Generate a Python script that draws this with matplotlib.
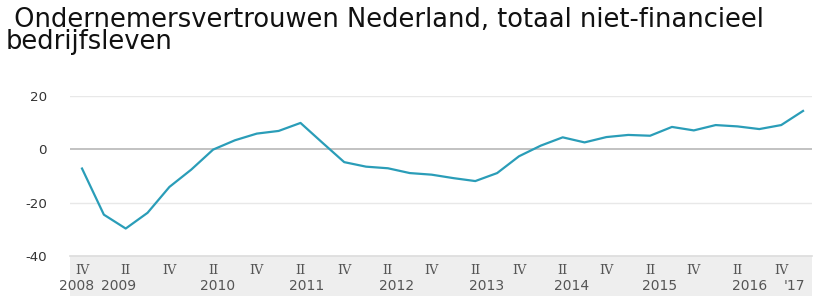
import matplotlib.pyplot as plt
from matplotlib.patches import Rectangle

# Quarterly producer confidence, 2008 Q4 .. 2017 Q1
quarters = ["IV"] + ["I", "II", "III", "IV"] * 8 + ["I"]
years = ["2008", "2009", "2010", "2011", "2012", "2013", "2014", "2015", "2016", "'17"]
values = [-7.2, -24.5, -29.7, -23.8, -14.1, -7.6, -0.1, 3.4, 5.9, 6.9,
          9.9, 2.5, -4.8, -6.5, -7.1, -8.9, -9.5, -10.8, -11.9, -8.9,
          -2.6, 1.4, 4.5, 2.6, 4.6, 5.4, 5.1, 8.4, 7.1, 9.1,
          8.6, 7.6, 9.1, 14.4]
yticks = [-40, -20, 0, 20]

# year label positions (quarter index)
year_pos = [-0.23, 1.65, 6.2, 10.3, 14.4, 18.5, 22.4, 26.45, 30.55, 32.6]

W, H = 814, 296
fig = plt.figure(figsize=(W / 100, H / 100), dpi=100)
ax_l, ax_r, ax_b, ax_t = 70 / W, 812 / W, 1 - 256 / H, 1 - 96 / H
ax = fig.add_axes([ax_l, ax_b, ax_r - ax_l, ax_t - ax_b])

x = list(range(len(values)))
ax.plot(x, values, color="#2a9db8", lw=1.6, solid_joinstyle="round", zorder=3)

ax.set_ylim(-40, 20)
ax.set_xlim(-0.55, len(values) - 1 + 0.41)
for v in yticks:
    if v == 0:
        ax.axhline(v, color="#bdbdbd", lw=1.3, zorder=2)
    elif v != -40:
        ax.axhline(v, color="#e8e8e8", lw=1.0, zorder=1)

for s in ax.spines.values():
    s.set_visible(False)
ax.set_xticks([])
ax.set_yticks(yticks)
ax.tick_params(axis="y", length=0, pad=16.5, labelsize=9.6, labelcolor="#333333")
ax.set_yticklabels([str(v) if v >= 0 else "-" + str(-v) for v in yticks],
                   family="DejaVu Sans")

# grey band under the plot with the quarter / year labels
band_h = ax_b / (ax_t - ax_b)
ax.add_patch(Rectangle((0, -band_h), 1, band_h, transform=ax.transAxes,
                       facecolor="#eeeeee", edgecolor="none", clip_on=False, zorder=0))
ax.axhline(-40, color="#dcdcdc", lw=1.2, zorder=1, clip_on=False)

trans = ax.get_xaxis_transform()
for i, q in enumerate(quarters):
    if q in ("II", "IV"):
        ax.text(i, -0.092, q, transform=trans, ha="center", va="center",
                family="DejaVu Serif", fontsize=9.2, color="#555555", clip_on=False, zorder=4)
for p, yr in zip(year_pos, years):
    ax.text(p, -0.187, yr, transform=trans, ha="center", va="center",
            family="DejaVu Sans", fontsize=10, color="#555555", clip_on=False, zorder=4)

fig.text(6 / W, 1 - 31 / H, " Ondernemersvertrouwen Nederland, totaal niet-financieel\nbedrijfsleven",
         ha="left", va="center", fontsize=18.5, color="#111111", linespacing=0.84,
         family="DejaVu Sans")

fig.savefig("out.png", dpi=100)
